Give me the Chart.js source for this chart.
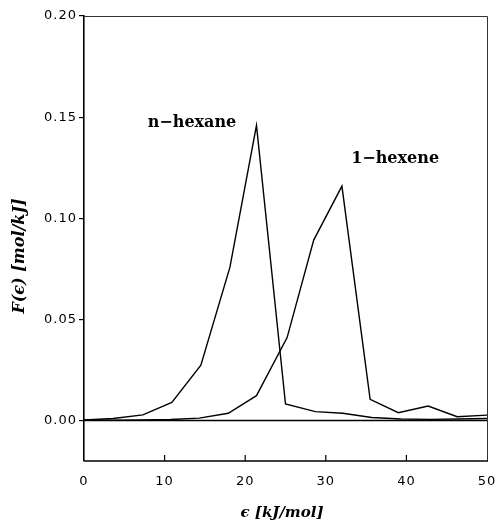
<!DOCTYPE html>
<html>
<head>
<meta charset="utf-8">
<script src="https://cdn.jsdelivr.net/npm/chart.js@4/dist/chart.umd.min.js"></script>
<style>
  html, body { margin: 0; padding: 0; background: #fff; }
  #wrap { width: 497px; height: 521px; }
</style>
</head>
<body>
<div id="wrap"><canvas id="chart" width="497" height="521"></canvas></div>
<script>
// energy distribution F(eps) for the two C6 hydrocarbons
const hexaneX = [0, 3.6, 7.3, 10.9, 14.5, 18.1, 21.4, 25.0, 28.7, 32.1, 35.7, 39.3, 42.9, 46.4, 50];
const hexaneY = [0.0003, 0.0010, 0.0028, 0.0090, 0.0274, 0.0757, 0.1459, 0.0082, 0.0044, 0.0036, 0.0015, 0.0008, 0.0006, 0.0008, 0.0010];
const hexeneX = [0, 3.6, 7.1, 10.7, 14.3, 17.9, 21.4, 25.2, 28.5, 32.0, 35.5, 39.0, 42.7, 46.3, 50];
const hexeneY = [0.0002, 0.0002, 0.0003, 0.0005, 0.0012, 0.0036, 0.0123, 0.0410, 0.0892, 0.1159, 0.0105, 0.0039, 0.0072, 0.0019, 0.0027];
const xTicks = [0, 10, 20, 30, 40, 50];
const yTicks = [0, 0.05, 0.10, 0.15, 0.20];

const toPoints = (xs, ys) => xs.map((x, i) => ({ x: x, y: ys[i] }));

const serif = '"DejaVu Serif", "Liberation Serif", serif';
const sans = '"DejaVu Sans", "Liberation Sans", sans-serif';

// frame, zero line, inward x ticks, labels and axis titles
const decorations = {
    id: "decorations",
    beforeDraw(chart) {
        chart.ctx.letterSpacing = "1px";
    },
    afterDraw(chart) {
        const ctx = chart.ctx;
        const a = chart.chartArea;
        const xs = chart.scales.x;
        const ys = chart.scales.y;
        ctx.save();
        ctx.letterSpacing = "0px";

        // thin top / right frame
        ctx.lineWidth = 1;
        ctx.strokeStyle = "#333";
        ctx.beginPath();
        ctx.moveTo(a.left, a.top + 0.5);
        ctx.lineTo(a.right + 0.5, a.top + 0.5);
        ctx.lineTo(a.right + 0.5, a.bottom);
        ctx.stroke();

        // heavier bottom axis
        ctx.strokeStyle = "#000";
        ctx.lineWidth = 1.6;
        ctx.beginPath();
        ctx.moveTo(a.left, a.bottom);
        ctx.lineTo(a.right + 1, a.bottom);
        ctx.stroke();

        // zero line
        const y0 = ys.getPixelForValue(0);
        ctx.lineWidth = 1.5;
        ctx.beginPath();
        ctx.moveTo(a.left, y0);
        ctx.lineTo(a.right, y0);
        ctx.stroke();

        // x ticks point into the plot
        ctx.lineWidth = 1.2;
        xTicks.slice(1, -1).forEach(v => {
            const px = xs.getPixelForValue(v);
            ctx.beginPath();
            ctx.moveTo(px, a.bottom);
            ctx.lineTo(px, a.bottom - 6);
            ctx.stroke();
        });

        // curve labels
        ctx.fillStyle = "#000";
        ctx.font = "bold 16px " + serif;
        ctx.textAlign = "center";
        ctx.textBaseline = "middle";
        ctx.fillText("n\u2212hexane", xs.getPixelForValue(13.4), ys.getPixelForValue(0.1473));
        ctx.fillText("1\u2212hexene", xs.getPixelForValue(38.6), ys.getPixelForValue(0.1296));

        // axis titles
        ctx.font = "italic bold 15px " + serif;
        ctx.fillText("\u03f5 [kJ/mol]", 282, 513);
        ctx.font = "italic bold 16px " + serif;
        ctx.translate(20, 256);
        ctx.rotate(-Math.PI / 2);
        ctx.fillText("F(\u03f5) [mol/kJ]", 0, 0);
        ctx.restore();
    }
};

const ctx = document.getElementById("chart").getContext("2d");
new Chart(ctx, {
    type: "line",
    data: {
        datasets: [
            {
                label: "n-hexane",
                data: toPoints(hexaneX, hexaneY),
                borderColor: "#000",
                borderWidth: 1.4,
                pointRadius: 0,
                tension: 0
            },
            {
                label: "1-hexene",
                data: toPoints(hexeneX, hexeneY),
                borderColor: "#000",
                borderWidth: 1.4,
                pointRadius: 0,
                tension: 0
            }
        ]
    },
    options: {
        responsive: false,
        animation: false,
        layout: { padding: { top: 16, right: 10, left: 0, bottom: 0 } },
        plugins: {
            legend: { display: false },
            tooltip: { enabled: false }
        },
        scales: {
            x: {
                type: "linear",
                min: 0,
                max: 50,
                afterBuildTicks: s => { s.ticks = xTicks.map(v => ({ value: v })); },
                afterFit: s => {
                    s.height = 60;
                    s.paddingLeft = 0;
                    s.paddingRight = 0;
                },
                grid: { display: false, drawTicks: false },
                border: { display: false },
                ticks: {
                    color: "#000",
                    font: { family: sans, size: 13 },
                    padding: 13,
                    maxRotation: 0
                }
            },
            y: {
                type: "linear",
                min: -0.02,
                max: 0.2,
                afterBuildTicks: s => { s.ticks = yTicks.map(v => ({ value: v })); },
                afterFit: s => {
                    s.width = 84;
                    s.paddingTop = 0;
                    s.paddingBottom = 0;
                },
                grid: {
                    drawOnChartArea: false,
                    drawTicks: true,
                    tickLength: 5,
                    color: "#000",
                    lineWidth: 1.2
                },
                border: { display: true, color: "#000", width: 1.6 },
                ticks: {
                    color: "#000",
                    font: { family: sans, size: 13 },
                    padding: 2,
                    callback: v => v.toFixed(2)
                }
            }
        }
    },
    plugins: [decorations]
});
</script>
</body>
</html>
